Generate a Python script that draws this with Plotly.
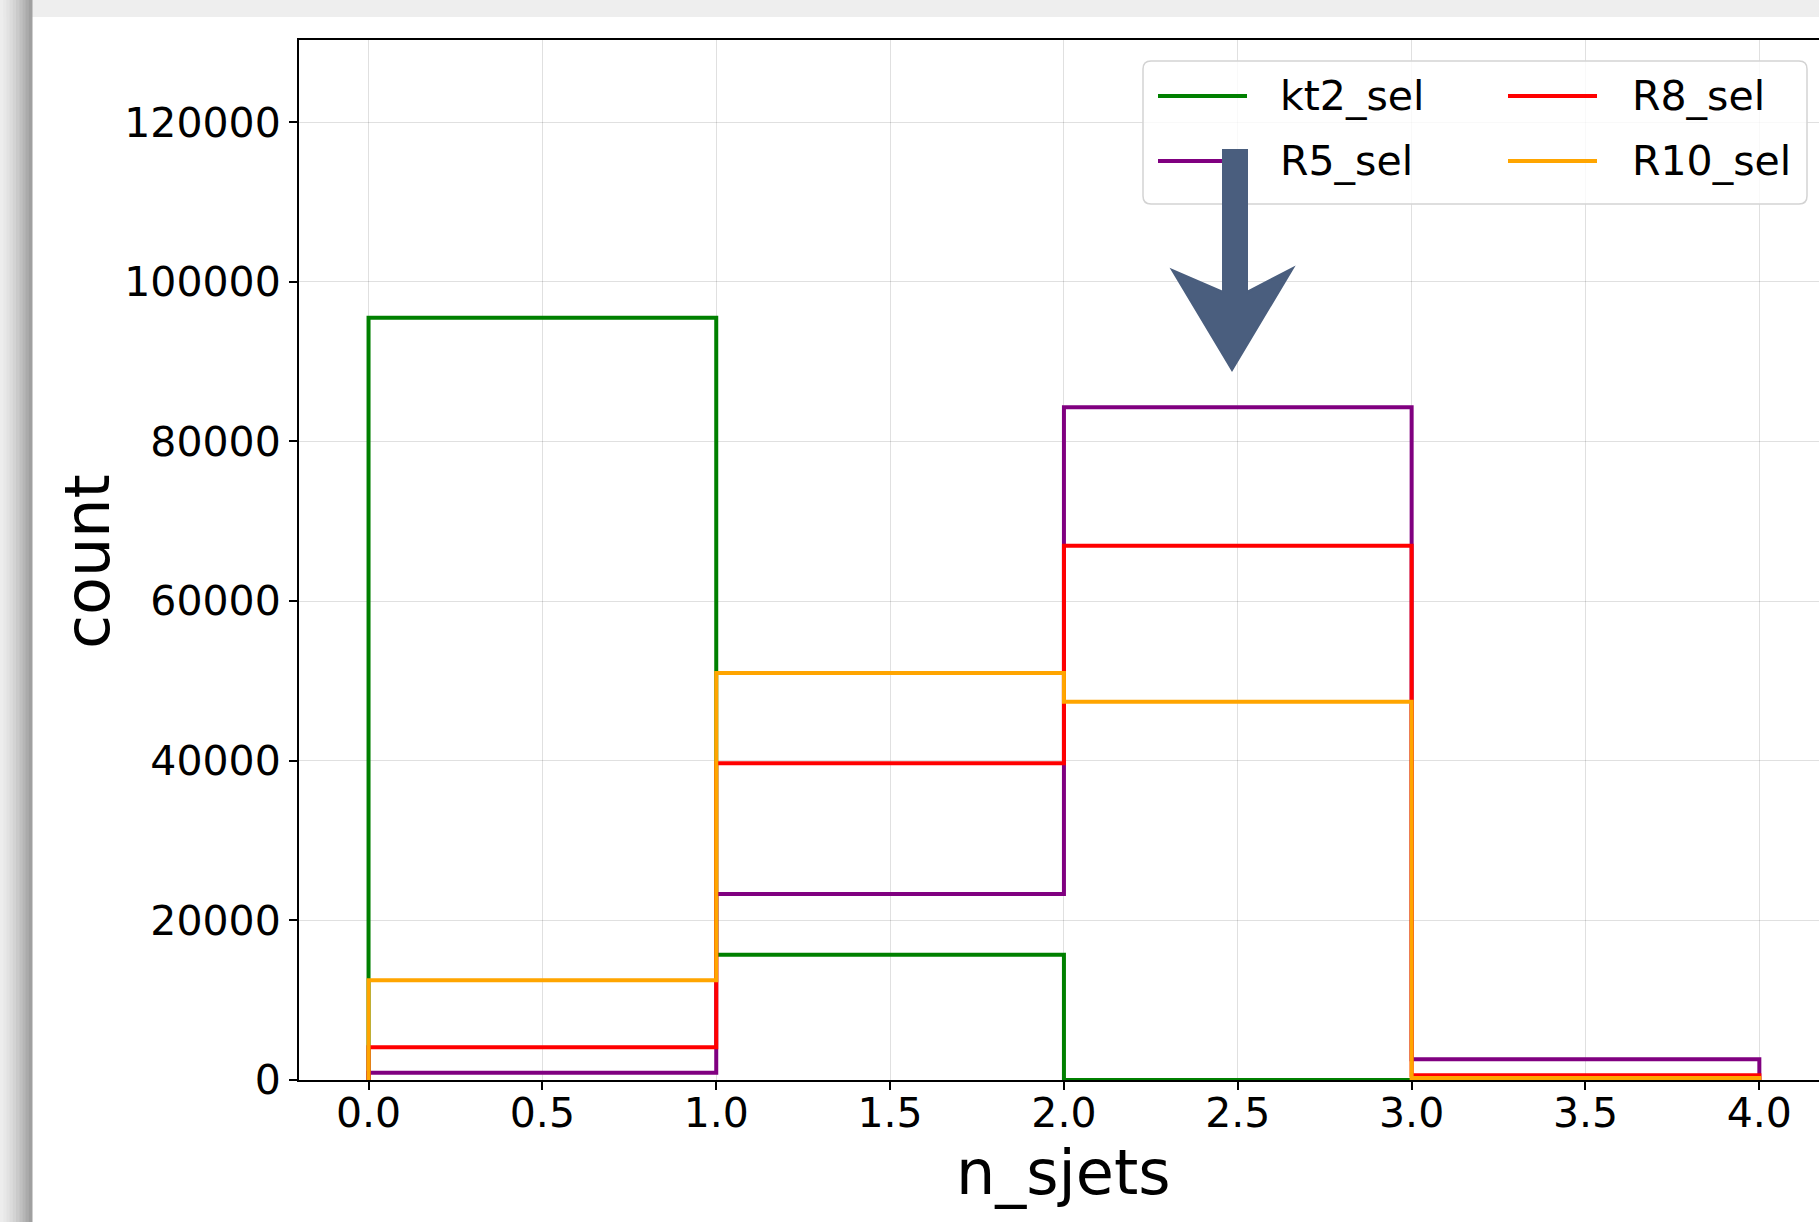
import plotly.graph_objects as go

# ---- data ----
bin_edges = [0, 1, 2, 3, 4]
series_names = ["kt2_sel", "R5_sel", "R8_sel", "R10_sel"]
series_colors = ["green", "purple", "red", "orange"]
kt2_sel = [95500, 15700, 0, 0]
R5_sel = [900, 23300, 84300, 2600]
R8_sel = [4100, 39700, 66950, 600]
R10_sel = [12500, 51000, 47400, 250]
series_values = [kt2_sel, R5_sel, R8_sel, R10_sel]

x_ticks = [0, 0.5, 1, 1.5, 2, 2.5, 3, 3.5, 4]
y_ticks = [0, 20000, 40000, 60000, 80000, 100000, 120000]

# ---- layout geometry (pixels) ----
W, H = 1819, 1222
L, R, T, B = 299, 0, 40, 142
PW, PH = W - L - R, H - T - B
FONT = "DejaVu Sans"


def px(x):
    return (x - L) / PW


def py(y):
    return (H - B - y) / PH


fig = go.Figure()

for name, color, vals in zip(series_names, series_colors, series_values):
    xs = [bin_edges[0]] + bin_edges[:-1] + [bin_edges[-1], bin_edges[-1]]
    ys = [0] + vals + [vals[-1], 0]
    fig.add_trace(go.Scatter(x=xs, y=ys, mode="lines", name=name,
                             line=dict(color=color, width=4, shape="hv"),
                             showlegend=False))

shapes = []
# background shadow / frame
shapes.append(dict(type="rect", xref="paper", yref="paper", x0=px(0), x1=px(W),
                   y0=py(0), y1=py(17), fillcolor="#eeeeee", line_width=0, layer="below"))
grad = ["#ededed", "#e8e8e8", "#e2e2e2", "#dbdbdb", "#d3d3d3", "#cacaca", "#c0c0c0",
        "#b6b6b6", "#ababab", "#a0a0a0"]
sw = 32 / len(grad)
for i, c in enumerate(grad):
    shapes.append(dict(type="rect", xref="paper", yref="paper", x0=px(i * sw), x1=px((i + 1) * sw + 0.5),
                       y0=py(0), y1=py(H), fillcolor=c, line_width=0, layer="below"))

# legend box (rounded)
bx0, bx1, by0, by1, rr = 1143, 1807, 61, 204, 8


def rpath(x0, y0, x1, y1, r):
    pts = [
        f"M{px(x0 + r)},{py(y0)}", f"L{px(x1 - r)},{py(y0)}", f"Q{px(x1)},{py(y0)} {px(x1)},{py(y0 + r)}",
        f"L{px(x1)},{py(y1 - r)}", f"Q{px(x1)},{py(y1)} {px(x1 - r)},{py(y1)}",
        f"L{px(x0 + r)},{py(y1)}", f"Q{px(x0)},{py(y1)} {px(x0)},{py(y1 - r)}",
        f"L{px(x0)},{py(y0 + r)}", f"Q{px(x0)},{py(y0)} {px(x0 + r)},{py(y0)}", "Z"]
    return " ".join(pts)


shapes.append(dict(type="path", xref="paper", yref="paper", path=rpath(bx0, by0, bx1, by1, rr),
                   fillcolor="rgba(255,255,255,0.8)", line=dict(color="#d3d3d3", width=1.5), layer="above"))

annotations = []
# legend entries: column-major, 2 columns
col_handle_x = [1158, 1508]
col_text_x = [1278, 1630]
row_y = [96, 161]
for i, (name, color) in enumerate(zip(series_names, series_colors)):
    col, row = i // 2, i % 2
    hx = col_handle_x[col]
    yy = row_y[row]
    shapes.append(dict(type="line", xref="paper", yref="paper", x0=px(hx), x1=px(hx + 89),
                       y0=py(yy), y1=py(yy), line=dict(color=color, width=4), layer="above"))
    annotations.append(dict(text=name, xref="paper", yref="paper", x=px(col_text_x[col]), y=py(yy),
                            xanchor="left", yanchor="middle", showarrow=False,
                            font=dict(family=FONT, size=41, color="black")))

# hand-drawn style arrow
arrow_pts = [(1223, 150), (1247, 150), (1247, 292), (1293, 268), (1232, 370),
             (1172, 270), (1223, 292)]
apath = "M" + " L".join(f"{px(x)},{py(y)}" for x, y in arrow_pts) + " Z"
shapes.append(dict(type="path", xref="paper", yref="paper", path=apath,
                   fillcolor="#4a5e7e", line=dict(color="#4a5e7e", width=2), layer="above"))

# axis titles
annotations.append(dict(text="n_sjets", xref="x", yref="paper", x=2.0, y=py(1172),
                        xanchor="center", yanchor="middle", showarrow=False,
                        font=dict(family=FONT, size=62, color="black")))
annotations.append(dict(text="count", xref="paper", yref="paper", x=px(87), y=py(562),
                        xanchor="center", yanchor="middle", textangle=-90, showarrow=False,
                        font=dict(family=FONT, size=62, color="black")))

x_right = -0.2 + PW / 347.7
fig.update_layout(
    width=W, height=H,
    margin=dict(l=L, r=R, t=T, b=B, autoexpand=False),
    paper_bgcolor="white", plot_bgcolor="white",
    font=dict(family=FONT, size=41, color="black"),
    showlegend=False,
    shapes=shapes, annotations=annotations,
    xaxis=dict(range=[-0.2, x_right], tickvals=x_ticks, ticktext=[f"{v:.1f}" for v in x_ticks],
               showline=True, linecolor="black", linewidth=2, mirror=True,
               ticks="outside", ticklen=8, tickwidth=2, tickcolor="black",
               ticklabelstandoff=-12,
               showgrid=True, gridcolor="rgba(0,0,0,0.12)", gridwidth=1.3, zeroline=False,
               tickfont=dict(family=FONT, size=41, color="black")),
    yaxis=dict(range=[0, 130300], tickvals=y_ticks, ticktext=[str(v) for v in y_ticks],
               showline=True, linecolor="black", linewidth=2, mirror=False,
               ticks="outside", ticklen=8, tickwidth=2, tickcolor="black",
               showgrid=True, gridcolor="rgba(0,0,0,0.12)", gridwidth=1.3, zeroline=False,
               tickfont=dict(family=FONT, size=41, color="black")),
)

fig.write_html("out.html")
